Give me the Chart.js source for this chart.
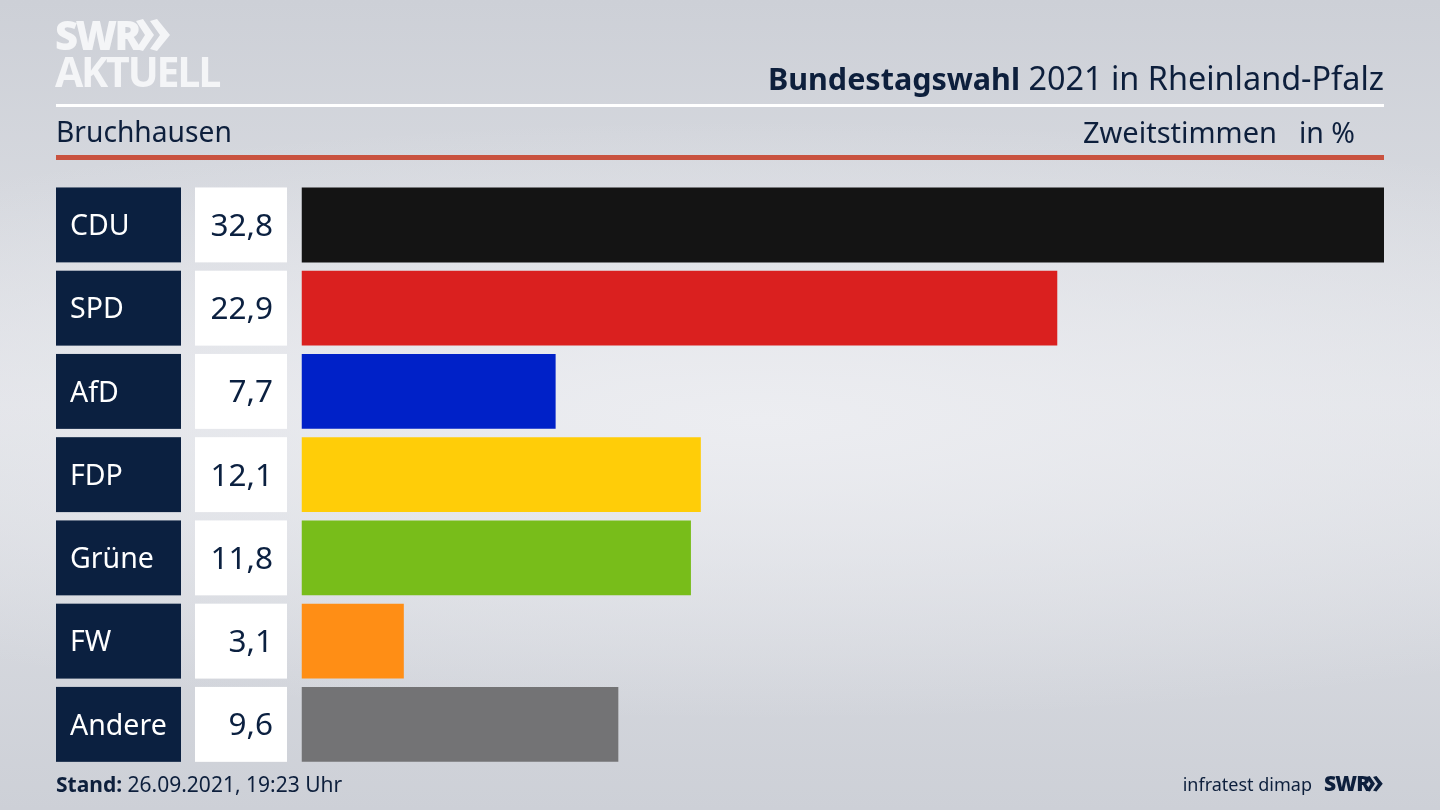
<!DOCTYPE html>
<html lang="de">
<head>
<meta charset="utf-8">
<title>Bundestagswahl 2021 in Rheinland-Pfalz</title>
<script src="https://cdn.jsdelivr.net/npm/chart.js@4"></script>
<style>
html, body { margin: 0; padding: 0; }
body {
    width: 1440px; height: 810px; overflow: hidden; position: relative;
    background: radial-gradient(ellipse 1300px 300px at 760px 420px, #ecedf1 0%, rgba(236,237,241,0) 100%),
                linear-gradient(180deg, #cdd0d7 0%, #dfe1e6 50%, #cdd0d7 100%);
    font-family: "Noto Sans", sans-serif; color: #0d1f3c;
}
#chart { position: absolute; left: 0; top: 0; }
.txt { position: absolute; white-space: nowrap; line-height: 1; }
.rule { position: absolute; left: 56px; width: 1328px; }
</style>
</head>
<body>
<canvas id="chart" width="1440" height="810"></canvas>

<div class="txt" style="left:55px;top:15px;font:800 40px/1 'Open Sans';color:#f4f5f7;letter-spacing:-2.6px">SWR</div>
<svg style="position:absolute;left:136px;top:19px" width="36" height="33" viewBox="0 0 36 33">
    <path d="M0 2 L7 0 L18 16 L7 32 L0 30 L9 16 Z M14 2 L21 0 L34 16 L21 32 L14 30 L24 16 Z" fill="#f4f5f7"/>
</svg>
<div class="txt" style="left:55px;top:51px;font:700 41px/1 'Open Sans';color:#f4f5f7;letter-spacing:-2.2px">AKTUELL</div>

<div class="txt" style="right:56px;top:61px;font-size:32.4px"><b style="font-size:30.5px">Bundestagswahl</b> 2021 in Rheinland-Pfalz</div>
<div class="rule" style="top:104px;height:3px;background:#fff"></div>
<div class="txt" style="left:56px;top:117px;font-size:28.2px">Bruchhausen</div>
<div class="txt" style="right:163px;top:117px;font-size:29px">Zweitstimmen</div>
<div class="txt" style="right:85px;top:118px;font-size:28.5px">in %</div>
<div class="rule" style="top:155px;height:5px;background:#c9523f"></div>

<div class="txt" style="left:56px;top:774px;font-size:21px"><b>Stand:</b> 26.09.2021, 19:23 Uhr</div>
<div class="txt" style="right:128px;top:775px;font-size:18px">infratest dimap</div>
<div class="txt" style="left:1324px;top:773px;font:800 21px/1 'Open Sans';letter-spacing:-.8px">SWR</div>
<svg style="position:absolute;left:1366px;top:776px" width="18" height="16" viewBox="0 0 36 33">
    <path d="M0 2 L7 0 L18 16 L7 32 L0 30 L9 16 Z M14 2 L21 0 L34 16 L21 32 L14 30 L24 16 Z" fill="#0d1f3c"/>
</svg>

<script>
const parteien = ['CDU', 'SPD', 'AfD', 'FDP', 'Grüne', 'FW', 'Andere'];
const stimmen = [32.8, 22.9, 7.7, 12.1, 11.8, 3.1, 9.6];
const farben = ['#141414', '#da201f', '#0021c8', '#ffcd08', '#78bd1a', '#ff8e15', '#737375'];

const navy = '#0b2040';

// boxes left of the bars: party name + value, placed from the y scale
const labelBoxes = {
    id: 'labelBoxes',
    afterDatasetsDraw(chart) {
        const ctx = chart.ctx;
        const bars = chart.getDatasetMeta(0).data;
        ctx.save();
        ctx.textBaseline = 'middle';
        bars.forEach((bar, i) => {
            const top = bar.y - bar.height / 2;
            ctx.fillStyle = navy;
            ctx.fillRect(56, top, 125, bar.height);
            ctx.fillStyle = '#fff';
            ctx.fillRect(195, top, 92, bar.height);

            ctx.font = '28.5px "Noto Sans"';
            ctx.textAlign = 'left';
            ctx.fillText(parteien[i], 70, bar.y + 2);
            ctx.font = '31.5px "Noto Sans"';
            ctx.textAlign = 'right';
            ctx.fillStyle = navy;
            ctx.fillText(stimmen[i].toFixed(1).replace('.', ','), 273, bar.y + 2);
        });
        ctx.restore();
    }
};

new Chart(document.getElementById('chart'), {
    type: 'bar',
    data: {
        labels: parteien,
        datasets: [{
            data: stimmen,
            backgroundColor: farben,
            barPercentage: 0.9,
            categoryPercentage: 1
        }]
    },
    options: {
        indexAxis: 'y',
        responsive: false,
        animation: false,
        layout: { padding: { left: 301.5, right: 56, top: 183.3, bottom: 44 } },
        plugins: { legend: { display: false }, tooltip: { enabled: false } },
        scales: {
            x: { display: false, min: 0, max: 32.8 },
            y: { display: false }
        }
    },
    plugins: [labelBoxes]
});
</script>
</body>
</html>
